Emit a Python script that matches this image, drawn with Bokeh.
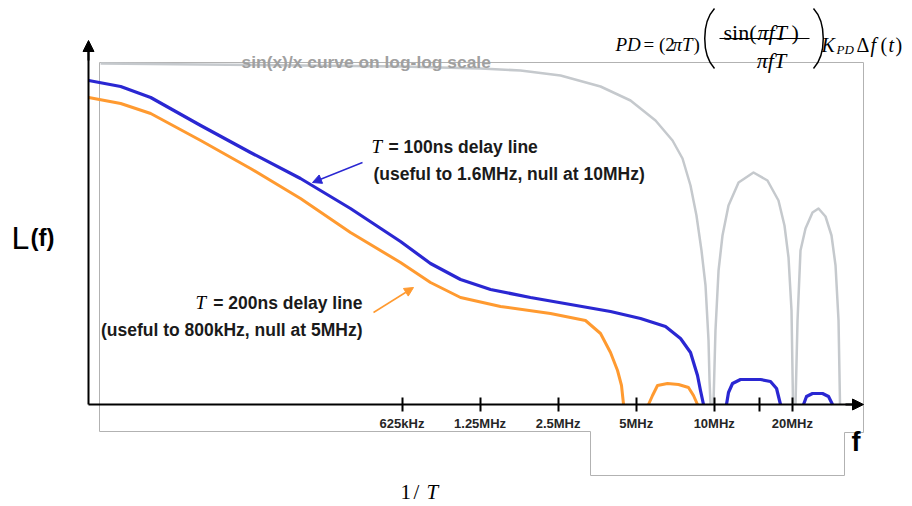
from bokeh.plotting import figure
from bokeh.models import (Range1d, LogAxis, LinearAxis, FixedTicker, Arrow,
                          NormalHead, Label)
from bokeh.embed import file_html
from bokeh.resources import INLINE

# ---------------- data (frequency in MHz, relative level above the f axis) -------------
tick_freqs = [0.625, 1.25, 2.5, 5, 10, 15, 20]
tick_labels = ["625kHz", "1.25MHz", "2.5MHz", "5MHz", "10MHz", "", "20MHz"]

# T = 100 ns delay line
blue_f = [0.0387, 0.0514, 0.0671, 0.1046, 0.1628, 0.2538, 0.3955, 0.6168, 0.805, 1.051,
          1.372, 1.956, 2.791, 3.981, 5.197, 6.488, 7.413, 8.10, 8.62, 8.85, 9.09]
blue_L = [324, 318, 307, 279, 252, 226, 196, 163, 141, 125,
          115, 107, 100, 93, 86, 78, 66, 52, 29, 14, 0]
blue_lobe1_f = [11.15, 11.35, 11.76, 12.63, 15.08, 16.48, 17.39, 18.01]
blue_lobe1_L = [0, 12, 21, 25, 25, 23, 16, 0]
blue_lobe2_f = [22.10, 22.69, 23.93, 26.16, 27.59, 28.58]
blue_lobe2_L = [0, 8, 11, 11, 8, 0]

# T = 200 ns delay line
orange_f = [0.0387, 0.0514, 0.0671, 0.1046, 0.1628, 0.2538, 0.3955, 0.6168, 0.805, 1.051,
            1.499, 2.336, 3.188, 3.643, 3.981, 4.237, 4.389, 4.469]
orange_L = [307, 301, 291, 264, 236, 206, 172, 142, 122, 107,
            98, 91, 84, 71, 52, 34, 19, 0]
orange_lobe_f = [5.579, 5.781, 6.042, 6.602, 7.281, 7.956, 8.317, 8.62]
orange_lobe_L = [0, 9, 19, 21, 20, 17, 9, 0]

# sin(x)/x curve on log-log scale
sinc_f = [0.0430, 0.1046, 0.2538, 0.6168, 1.2549, 1.790, 2.554, 3.643, 4.754, 5.937,
          6.904, 7.545, 8.10, 8.54, 8.93, 9.255, 9.505, 9.59, 9.675]
sinc_L = [341, 340, 339, 338, 336, 334, 329, 318, 304, 284,
          264, 246, 219, 189, 154, 119, 64, 24, 0]
sinc_lobe2_f = [9.932, 10.11, 10.39, 10.76, 11.35, 12.41, 14.17, 16.04, 17.69, 18.66,
                19.34, 19.86, 20.13]
sinc_lobe2_L = [0, 74, 134, 169, 199, 222, 232, 224, 204, 179, 147, 94, 0]
sinc_lobe3_f = [20.58, 20.95, 21.51, 22.49, 23.93, 25.24, 26.86, 28.33, 29.36, 30.15, 30.55]
sinc_lobe3_L = [0, 84, 154, 176, 192, 196, 188, 169, 139, 84, 0]

# ---------------- layout helpers (page pixel -> data coordinates) ----------------
W, H = 912, 506


def X(px):
    return 0.625 * 2 ** ((px - 401.5) / 78.06)


def Y(py):
    return 404 - py


BLUE = "#2a27d2"
ORANGE = "#ff9a30"
GRAYC = "#c5c9cd"
FRAME = "#b2b2b2"

p = figure(width=W, height=H, output_backend="svg", toolbar_location=None,
           x_axis_type="log", x_axis_location=None, y_axis_location=None,
           x_range=Range1d(X(0), X(W)), y_range=Range1d(Y(H), Y(0)),
           min_border=0, outline_line_color=None, background_fill_color="white")
p.grid.visible = False

# gray frame of the pasted sin(x)/x picture
fx = [99, 99, 863, 863, 844, 844, 590, 590, 99]
fy = [431, 62, 62, 432, 432, 475, 475, 431, 431]
p.line([X(v) for v in fx], [Y(v) for v in fy], line_color=FRAME, line_width=1)

# curves
for xs, ys in [(sinc_f, sinc_L), (sinc_lobe2_f, sinc_lobe2_L), (sinc_lobe3_f, sinc_lobe3_L)]:
    p.line(xs, ys, line_color=GRAYC, line_width=2.5, line_join="round")
for xs, ys in [(orange_f, orange_L), (orange_lobe_f, orange_lobe_L)]:
    p.line(xs, ys, line_color=ORANGE, line_width=3, line_join="round")
for xs, ys in [(blue_f, blue_L), (blue_lobe1_f, blue_lobe1_L), (blue_lobe2_f, blue_lobe2_L)]:
    p.line(xs, ys, line_color=BLUE, line_width=3.2, line_join="round")

# axes
xaxis = LogAxis(fixed_location=0, bounds=(X(88), X(856)),
                ticker=FixedTicker(ticks=tick_freqs, minor_ticks=[]),
                major_label_overrides=dict(zip(tick_freqs, tick_labels)),
                axis_line_color="black", axis_line_width=2,
                major_tick_line_color="black", major_tick_line_width=2,
                major_tick_in=7, major_tick_out=7, minor_tick_line_color=None,
                major_label_standoff=4,
                major_label_text_font="Liberation Sans",
                major_label_text_font_style="bold",
                major_label_text_font_size="13px",
                major_label_text_color="#262626")
p.add_layout(xaxis, "below")
yaxis = LinearAxis(fixed_location=X(88), bounds=(0, Y(48)),
                   ticker=FixedTicker(ticks=[]), axis_line_color="black",
                   axis_line_width=2, major_tick_line_color=None,
                   minor_tick_line_color=None, major_label_text_font_size="0px")
p.add_layout(yaxis, "left")

p.add_layout(Arrow(end=NormalHead(size=11, fill_color="black", line_color="black"),
                   x_start=X(845), y_start=0, x_end=X(863), y_end=0,
                   line_color="black", line_width=2))
p.add_layout(Arrow(end=NormalHead(size=11, fill_color="black", line_color="black"),
                   x_start=X(88), y_start=Y(60), x_end=X(88), y_end=Y(40),
                   line_color="black", line_width=2))

# annotation arrows
p.add_layout(Arrow(end=NormalHead(size=9, fill_color=BLUE, line_color=BLUE),
                   x_start=X(362), y_start=Y(162), x_end=X(312), y_end=Y(182),
                   line_color=BLUE, line_width=1.5))
p.add_layout(Arrow(end=NormalHead(size=9, fill_color=ORANGE, line_color=ORANGE),
                   x_start=X(373), y_start=Y(312), x_end=X(413), y_end=Y(287),
                   line_color=ORANGE, line_width=1.5))


def lab(text, px, py, size, font="Liberation Sans", style="normal", color="black",
        align="left"):
    p.add_layout(Label(x=X(px), y=Y(py), text=text, text_font=font,
                       text_font_size=size, text_font_style=style, text_color=color,
                       text_align=align, text_baseline="alphabetic"))


SERIF = "Liberation Serif"

lab("sin(x)/x curve on log-log scale", 241, 61, "17.4px", style="bold", color="#a0a0a0")

# T = 100 ns
lab("T", 371, 146, "19px", font=SERIF, style="italic")
lab("= 100ns delay line", 388, 146, "17.5px", style="bold", color="#1a1a1a")
lab("(useful to 1.6MHz, null at 10MHz)", 373, 173, "17.5px", style="bold", color="#1a1a1a")
# T = 200 ns
lab("T", 195, 302, "19px", font=SERIF, style="italic")
lab("= 200ns delay line", 362, 302, "17.5px", style="bold", color="#1a1a1a", align="right")
lab("(useful to 800kHz, null at 5MHz)", 362, 329, "17.5px", style="bold", color="#1a1a1a",
    align="right")

# axis names
lab("L", 11, 237, "32px")
lab("(f)", 30, 237, "24px", style="bold")
lab("f", 851, 441, "27px", style="bold")

# 1/T
lab("1", 400, 491, "21px", font=SERIF)
lab("/", 413, 491, "21px", font=SERIF)
lab("T", 426, 491, "21px", font=SERIF, style="italic")

# formula PD = (2 pi T)(sin(pi f T)/(pi f T)) K_PD delta f(t)
lab("PD", 615, 44, "19px", font=SERIF, style="italic")
lab("= (2", 643, 44, "19px", font=SERIF)
lab("πT", 672, 44, "19px", font=SERIF, style="italic")
lab(")", 693, 44, "19px", font=SERIF)
lab("sin(", 723, 32, "22px", font=SERIF)
lab("πfT", 757, 32, "22px", font=SERIF, style="italic")
lab(")", 791, 32, "22px", font=SERIF)
lab("πfT", 771, 60, "22px", font=SERIF, style="italic", align="center")
p.line([X(719), X(809)], [Y(38), Y(38)], line_color="black", line_width=1)
p.bezier(x0=[X(714)], y0=[Y(8)], x1=[X(714)], y1=[Y(68)], cx0=[X(701)], cy0=[Y(22)],
         cx1=[X(701)], cy1=[Y(54)], line_color="black", line_width=1.5)
p.bezier(x0=[X(813)], y0=[Y(8)], x1=[X(813)], y1=[Y(68)], cx0=[X(826)], cy0=[Y(22)],
         cx1=[X(826)], cy1=[Y(54)], line_color="black", line_width=1.5)
lab("K", 821, 44, "20px", font=SERIF, style="italic")
lab("PD", 836, 49, "13px", font=SERIF, style="italic")
lab("Δ", 856, 44, "20px", font=SERIF)
lab("f", 870, 44, "20px", font=SERIF, style="italic")
lab("(", 880, 44, "20px", font=SERIF)
lab("t", 888, 44, "20px", font=SERIF, style="italic")
lab(")", 895, 44, "20px", font=SERIF)

open("out.html", "w").write(file_html(p, INLINE))
